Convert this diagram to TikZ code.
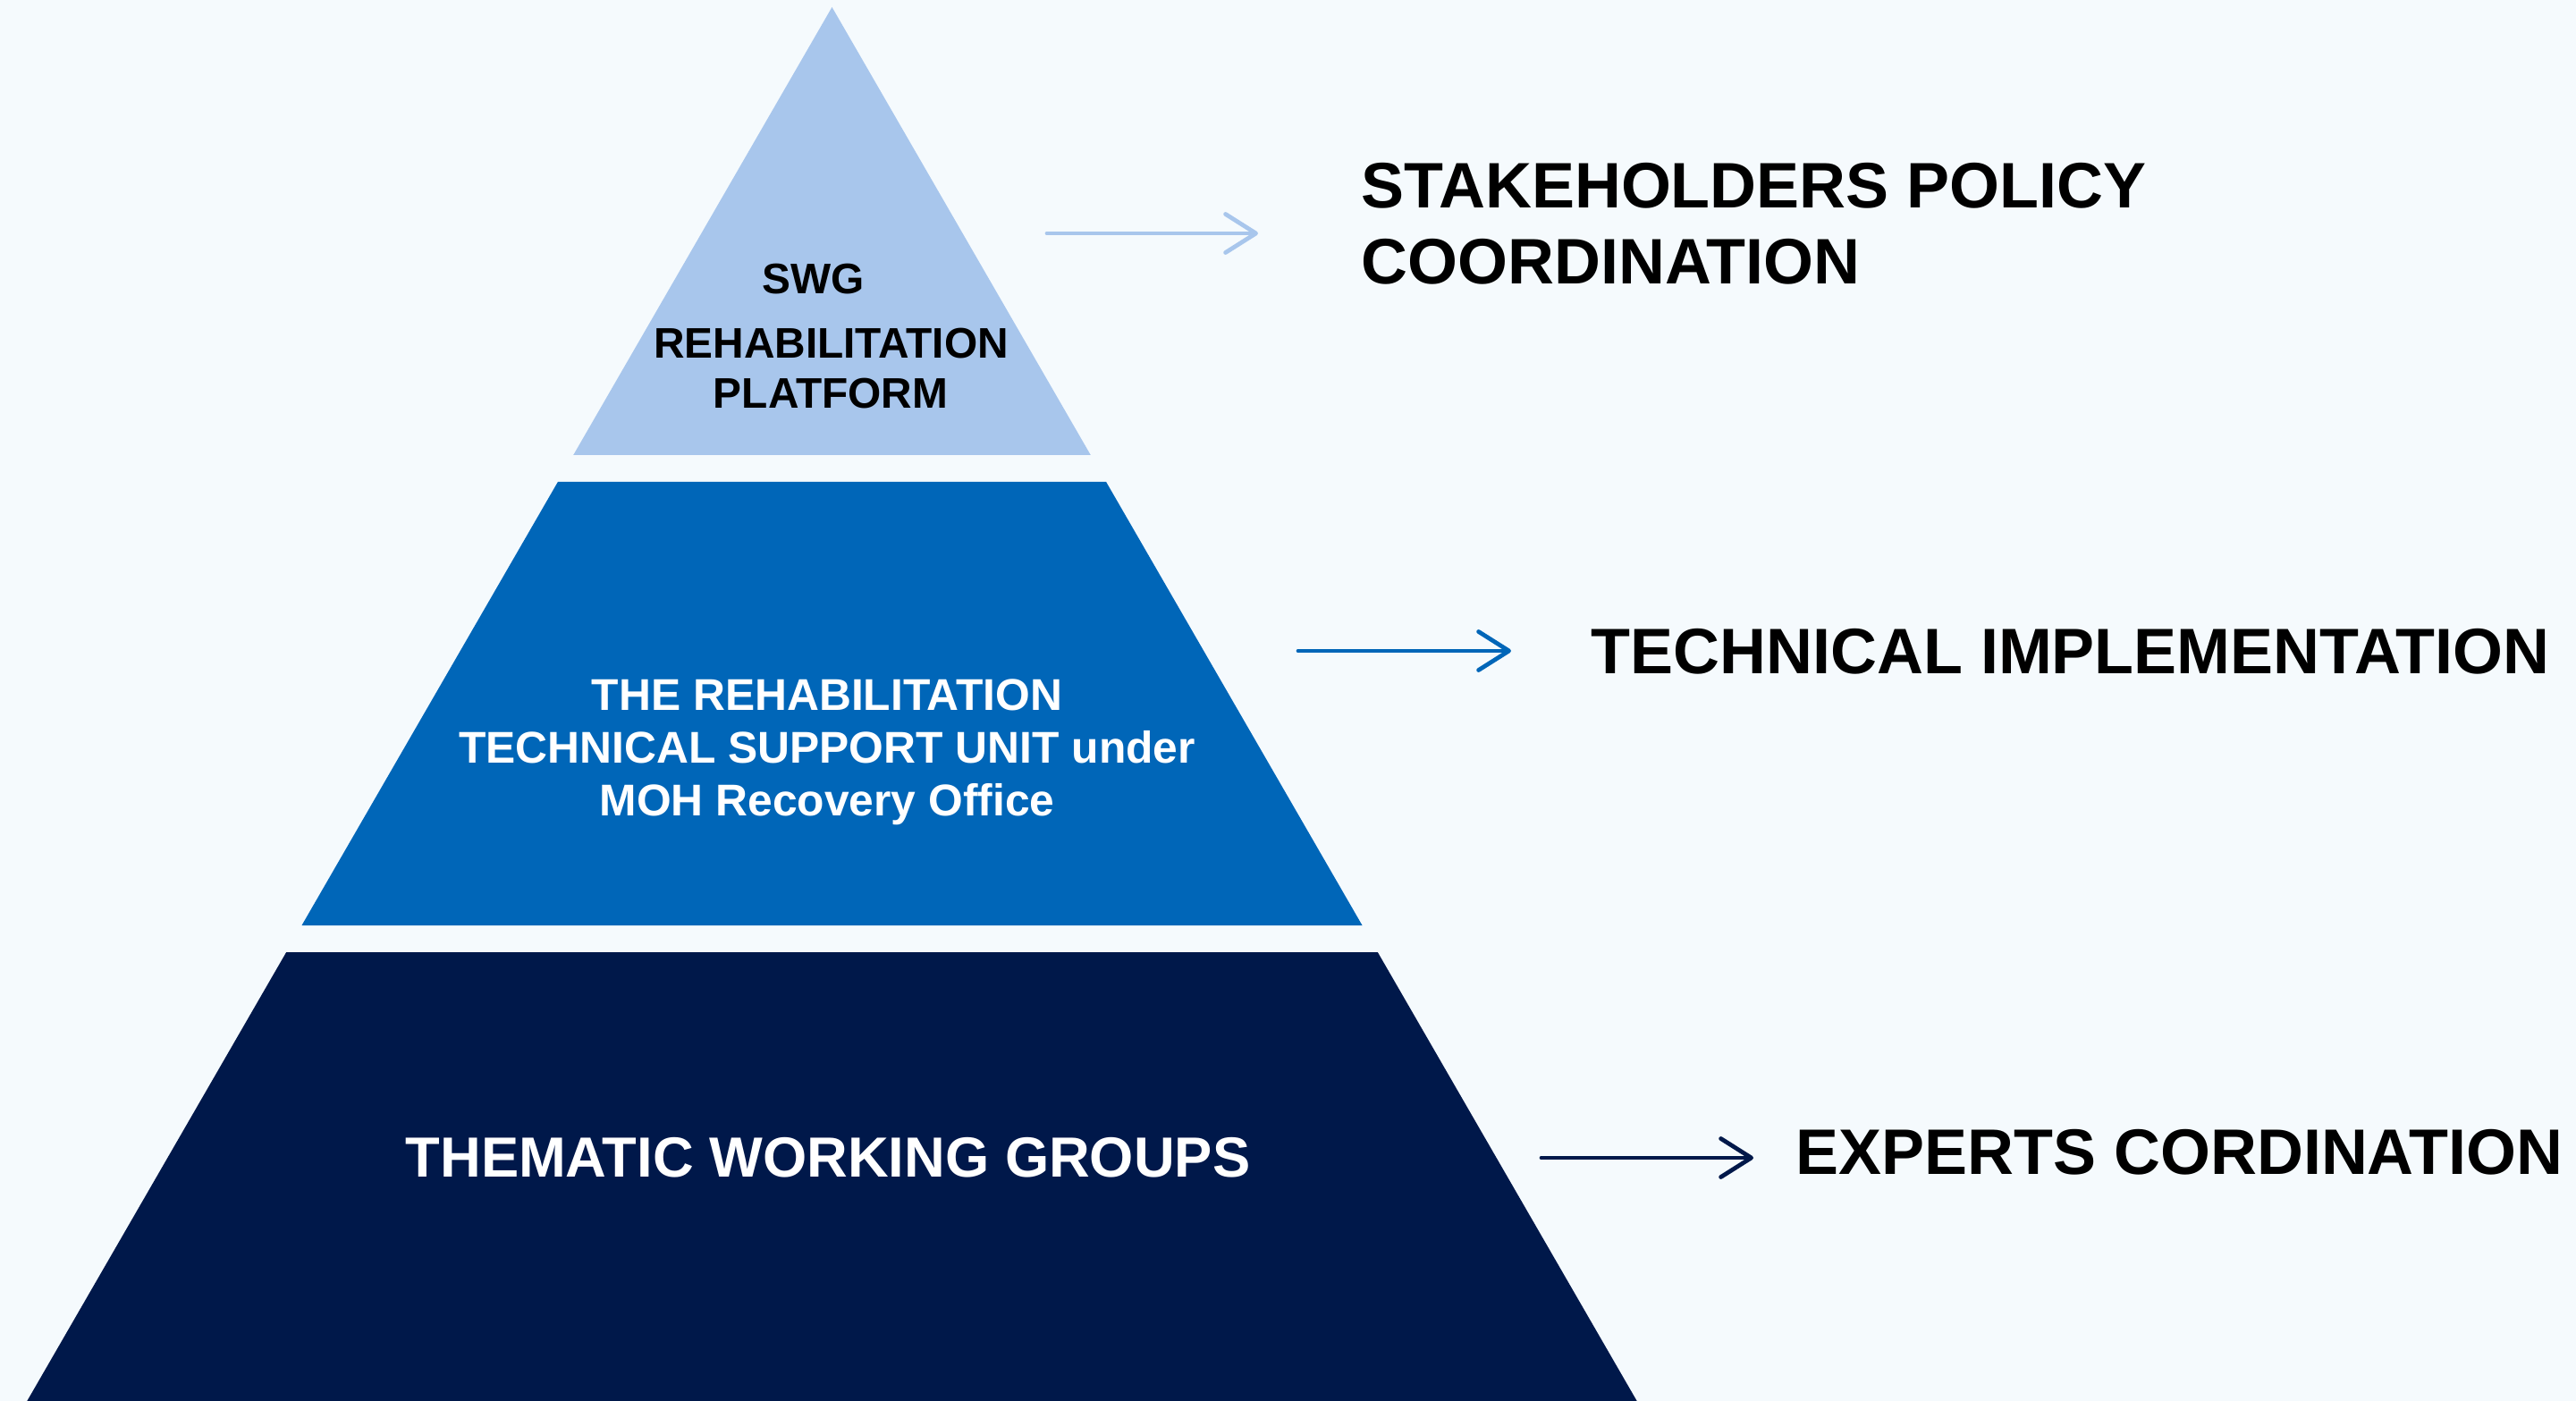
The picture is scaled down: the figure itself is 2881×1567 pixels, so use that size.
\documentclass[tikz,border=0pt]{standalone}
\usepackage{fontspec}
\setmainfont{Liberation Sans}
\usetikzlibrary{arrows.meta}
\definecolor{bg}{HTML}{F5FAFD}
\definecolor{tierA}{HTML}{A8C6EC}
\definecolor{tierB}{HTML}{0066B8}
\definecolor{tierC}{HTML}{00184A}
\begin{document}
\begin{tikzpicture}[x=0.01cm, y=-0.01cm,
  arr/.style={line width=1.35pt, line cap=round, -{Straight Barb[length=0.34cm, width=0.43cm, round]}},
  sidetxt/.style={inner sep=0pt, anchor=base west, font=\fontsize{20.45}{24}\selectfont\bfseries, text=black},
  toptxt/.style={inner sep=0pt, anchor=base, font=\fontsize{13.6}{16}\selectfont\bfseries, text=black},
  midtxt/.style={inner sep=0pt, anchor=base, font=\fontsize{14.15}{17}\selectfont\bfseries, text=white},
  bottxt/.style={inner sep=0pt, anchor=base, font=\fontsize{18.0}{22}\selectfont\bfseries, text=white}]
\useasboundingbox (0,0) rectangle (2881,1567);
\fill[bg] (0,0) rectangle (2881,1567);
% tiers
\fill[tierA] (930.5,8) -- (1219.8,509) -- (641.2,509) -- cycle;
\fill[tierB] (623.9,539) -- (1237.1,539) -- (1523.5,1035) -- (337.5,1035) -- cycle;
\fill[tierC] (320.2,1065) -- (1540.8,1065) -- (1830.7,1567) -- (30.3,1567) -- cycle;
% tier texts
\node[toptxt] (swg) at (909.5,329) {SWG};
\node[toptxt] (rehab) at (929.5,401) {REHABILITATION};
\node[toptxt] (platform) at (929,457) {PLATFORM};
\node[midtxt] (mid1) at (925,794) {THE REHABILITATION};
\node[midtxt] (mid2) at (925,853) {TECHNICAL SUPPORT UNIT under};
\node[midtxt] (mid3) at (925,912) {MOH Recovery Office};
\node[bottxt] (thematic) at (926,1316) {THEMATIC WORKING GROUPS};
% side texts
\node[sidetxt] (stake1) at (1522,233) {STAKEHOLDERS POLICY};
\node[sidetxt] (stake2) at (1522,318) {COORDINATION};
\node[sidetxt] (tech) at (1779,753) {TECHNICAL IMPLEMENTATION};
\node[sidetxt] (experts) at (2008,1313) {EXPERTS CORDINATION};
% arrows
\coordinate (a1s) at (1171,261);
\coordinate (a1e) at (1407,261);
\coordinate (a2s) at (1452,728);
\coordinate (a2e) at (1690,728);
\coordinate (a3s) at (1724,1295);
\coordinate (a3e) at (1961,1295);
\draw[arr, tierA] (a1s) -- (a1e);
\draw[arr, tierB] (a2s) -- (a2e);
\draw[arr, tierC] (a3s) -- (a3e);
\end{tikzpicture}
\end{document}
